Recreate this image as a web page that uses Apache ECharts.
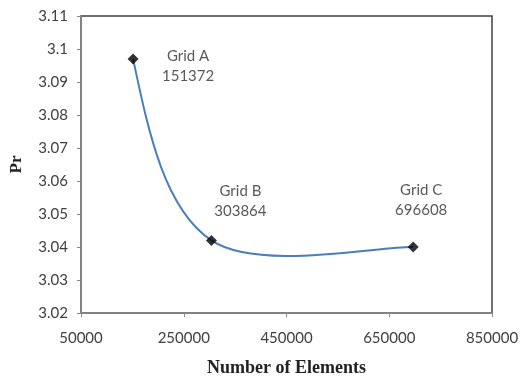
<!DOCTYPE html>
<html>
<head>
<meta charset="utf-8">
<script src="https://cdn.jsdelivr.net/npm/echarts@6/dist/echarts.min.js"></script>
<style>
  html, body { margin: 0; padding: 0; background: #fff; }
  #chart { width: 523px; height: 378px; }
</style>
</head>
<body>
<div id="chart"></div>
<script>
// Mesh study: Prandtl number against element count
const gridNames = ['Grid A', 'Grid B', 'Grid C'];
const elementCounts = [151372, 303864, 696608];
const prValues = [3.097, 3.042, 3.040];
const labelOffsets = [[55, 7], [29, -39], [8, -47]];

const tickFont = 'Lato, "Open Sans", sans-serif';
const titleFont = '"Liberation Serif", "DejaVu Serif", serif';
const curveColor = '#4a7ebb';

const points = elementCounts.map((x, i) => ({
  value: [x, prValues[i]],
  name: gridNames[i],
  label: { offset: labelOffsets[i] }
}));

// Smoothed connector: cubic Bezier segments in pixel space, tangents from
// neighbouring points (Catmull-Rom style), computed from the axis scales.
function renderSegment(params, api) {
  const i = params.dataIndex;
  const n = elementCounts.length;
  if (i >= n - 1) return null;
  const P = elementCounts.map((x, k) => api.coord([x, prValues[k]]));
  const tangent = k => {
    const a = P[Math.max(k - 1, 0)], b = P[Math.min(k + 1, n - 1)];
    return [(b[0] - a[0]) / 6, (b[1] - a[1]) / 6];
  };
  const p0 = P[i], p1 = P[i + 1];
  let c1, c2;
  const t1 = tangent(i + 1);
  c2 = [p1[0] - t1[0], p1[1] - t1[1]];
  if (i === 0) {
    // first segment leans toward the next control point
    c1 = [p0[0] + (c2[0] - p0[0]) / 2, p0[1] + (c2[1] - p0[1]) / 2];
  } else {
    const t0 = tangent(i);
    c1 = [p0[0] + t0[0], p0[1] + t0[1]];
  }
  return {
    type: 'bezierCurve',
    shape: {
      x1: p0[0], y1: p0[1], x2: p1[0], y2: p1[1],
      cpx1: c1[0], cpy1: c1[1], cpx2: c2[0], cpy2: c2[1]
    },
    style: { stroke: curveColor, lineWidth: 2, fill: null },
    silent: true
  };
}

const chart = echarts.init(document.getElementById('chart'));
chart.setOption({
  animation: false,
  backgroundColor: '#ffffff',
  grid: {
    left: 81, right: 31, top: 16, bottom: 65,
    outerBoundsMode: 'none',
    containLabel: false,
    show: true, borderColor: '#404040', borderWidth: 1.5,
    backgroundColor: 'transparent'
  },
  xAxis: {
    type: 'value',
    min: 50000, max: 850000, interval: 200000,
    name: 'Number of Elements',
    nameLocation: 'middle',
    nameGap: 46,
    nameTextStyle: { fontFamily: titleFont, fontWeight: 'bold', fontSize: 18, color: '#222' },
    axisLine: { show: true, lineStyle: { color: '#8a8a8a', width: 1.5 } },
    axisTick: { show: true, inside: false, length: 4, lineStyle: { color: '#8a8a8a' } },
    axisLabel: {
      fontFamily: tickFont, fontSize: 15, color: '#404040', margin: 18,
      formatter: v => String(v)
    },
    splitLine: { show: false }
  },
  yAxis: {
    type: 'value',
    min: 3.02, max: 3.11, interval: 0.01,
    name: 'Pr',
    nameLocation: 'middle',
    nameGap: 56,
    nameRotate: 90,
    nameTextStyle: { fontFamily: titleFont, fontWeight: 'bold', fontSize: 17, color: '#222' },
    axisLine: { show: true, lineStyle: { color: '#8a8a8a', width: 1.5 } },
    axisTick: { show: true, inside: false, length: 4, lineStyle: { color: '#8a8a8a' } },
    axisLabel: {
      fontFamily: tickFont, fontSize: 15, color: '#404040', margin: 13,
      formatter: v => String(+v.toFixed(2))
    },
    splitLine: { show: false }
  },
  series: [{
    type: 'custom',
    data: elementCounts.map((x, i) => [x, prValues[i]]),
    renderItem: renderSegment,
    z: 2
  }, {
    type: 'scatter',
    data: points,
    symbol: 'diamond',
    symbolSize: 11,
    itemStyle: { color: '#000000' },
    z: 3,
    label: {
      show: true,
      position: 'inside',
      formatter: p => p.name + '\n' + p.value[0],
      fontFamily: tickFont,
      fontSize: 15,
      lineHeight: 20,
      color: '#2e2e2e',
      align: 'center'
    }
  }]
});
</script>
</body>
</html>
